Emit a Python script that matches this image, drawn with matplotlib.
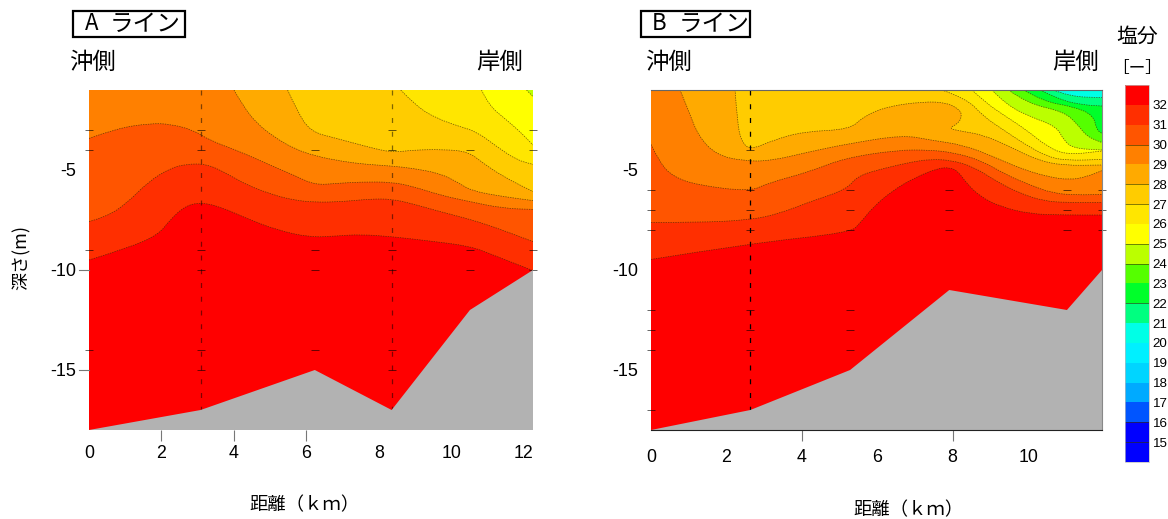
import matplotlib
matplotlib.use("Agg")
import matplotlib.pyplot as plt
from matplotlib.colors import ListedColormap, BoundaryNorm
from matplotlib.colorbar import ColorbarBase
from matplotlib.patches import PathPatch, Rectangle
from matplotlib.path import Path

W, H = 1168, 519
JP = ["Noto Sans CJK JP", "DejaVu Sans"]
plt.rcParams["font.family"] = ["Liberation Sans", "DejaVu Sans"]
plt.rcParams["axes.unicode_minus"] = False

# salinity bands, lowest (14-15) to highest (32-33)
band_edges = list(range(14, 34))
band_colors = ["#0000ff", "#0000ff", "#0055ff", "#00aaff", "#00d5ff", "#00f0ff",
               "#00ffe6", "#00ff80", "#00ff2a", "#55ff00", "#bbff00", "#ffff00",
               "#ffe600", "#ffcc00", "#ffaa00", "#ff8000", "#ff5500", "#ff2f00",
               "#ff0000"]
bar_labels = list(range(15, 33))

# A line isolines: (distance km, depth m)
a_32 = [(0, -9.5), (1.04, -8.92), (1.91, -8.25), (2.23, -7.5), (2.65, -6.8), (3.08, -6.62),
        (3.61, -6.83), (4.35, -7.42), (5.18, -8.0), (6.1, -8.37), (6.83, -8.3), (7.48, -8.22),
        (8.35, -8.33), (9.31, -8.53), (10.51, -8.8), (11.15, -9.25), (12.25, -10.03)]
a_31 = [(0, -7.58), (0.49, -7.33), (1.04, -6.67), (1.64, -5.58), (2.23, -4.92), (2.69, -4.7),
        (3.25, -4.7), (3.8, -5.17), (4.35, -5.75), (5.09, -6.25), (5.64, -6.5), (6.23, -6.62),
        (7.02, -6.58), (7.75, -6.45), (8.35, -6.45), (8.95, -6.7), (9.68, -7.08), (10.42, -7.42),
        (11.15, -7.83), (12.25, -8.58)]
a_30 = [(0, -3.42), (0.76, -2.92), (1.68, -2.67), (2.23, -2.7), (2.88, -3), (3.34, -3.53),
        (4.17, -4.08), (5.09, -4.83), (5.64, -5.25), (6.23, -5.75), (6.83, -5.67), (7.48, -5.6),
        (8.35, -5.6), (8.95, -5.83), (9.68, -6.25), (10.42, -6.55), (11.43, -6.92), (12.25, -6.97)]
a_29 = [(4.0, -1.0), (4.26, -1.83), (4.63, -2.67), (5.09, -3.33), (5.64, -3.92), (6.23, -4.3),
        (7.02, -4.58), (7.66, -4.72), (8.35, -4.8), (8.95, -4.92), (9.68, -5.17), (10.14, -5.58),
        (10.56, -6.05), (11.43, -6.33), (12.25, -6.53)]
a_28 = [(5.48, -1.0), (5.73, -2), (6.1, -3.08), (6.83, -3.42), (7.66, -3.83), (8.35, -4.13),
        (8.95, -4), (9.77, -3.97), (10.46, -4.08), (10.88, -4.67), (11.43, -5.33), (12.25, -6.08)]
a_27 = [(8.6, -1.0), (9.04, -1.83), (9.59, -2.42), (10.23, -2.83), (10.69, -3.08),
        (11.25, -3.83), (11.8, -4.5), (12.25, -4.72)]
a_26 = [(10.83, -1.0), (11.02, -1.75), (11.52, -2.5), (11.89, -3.08), (12.25, -3.75)]
a_25 = [(12.07, -1.0), (12.25, -1.33)]
a_isolines = {32: a_32, 31: a_31, 30: a_30, 29: a_29, 28: a_28, 27: a_27, 26: a_26, 25: a_25}
a_seabed = [(0, -18), (3.08, -17), (6.23, -15), (8.35, -17), (10.51, -12), (12.25, -10)]

# B line isolines
b_32 = [(0, -9.47), (2.635, -8.67), (5.28, -8.13), (5.54, -7.67), (5.9, -6.83), (6.43, -6),
        (6.96, -5.42), (7.58, -4.92), (7.93, -4.87), (8.15, -5.08), (8.37, -5.67), (8.73, -6.33),
        (9.26, -6.83), (10.05, -7.2), (10.94, -7.25), (11.96, -7.25)]
b_31 = [(0, -7.62), (1.21, -7.63), (2.635, -7.5), (3.42, -7.17), (4.22, -6.58), (5.19, -5.97),
        (5.47, -5.3), (6.16, -4.92), (6.96, -4.58), (7.4, -4.47), (7.93, -4.5), (8.55, -4.83),
        (9.17, -5.58), (9.79, -6.17), (10.41, -6.55), (11.03, -6.63), (11.96, -6.62)]
b_30 = [(0, -3.72), (0.24, -4.67), (0.59, -5.33), (1.21, -5.75), (2.635, -6.08), (3.07, -5.67),
        (4.22, -5.08), (5.1, -4.42), (6.52, -4), (7.4, -4), (8.02, -4.13), (8.73, -4.5),
        (9.43, -5.25), (10.05, -5.75), (10.67, -6.17), (11.29, -6.25), (11.96, -6.22)]
b_29 = [(0.77, -1.0), (0.99, -2), (1.26, -3.33), (1.74, -4.25), (2.45, -4.55), (3.16, -4.55),
        (4.22, -4.08), (5.28, -3.67), (6.69, -3.25), (7.4, -3.5), (8.29, -3.75), (9.08, -4.33),
        (9.79, -4.92), (10.5, -5.33), (11.11, -5.5), (11.56, -5.33), (11.96, -5.03)]
b_28 = [(2.23, -1.0), (2.29, -2.67), (2.4, -3.58), (2.635, -4), (3.25, -3.5), (4.04, -3.08),
        (5.28, -2.97), (5.63, -2.33), (6.25, -1.83), (7.22, -1.58), (7.84, -1.63), (8.2, -2),
        (8.24, -2.33), (8.15, -2.67), (7.89, -2.92), (8.2, -3.05), (8.82, -3.25), (9.52, -3.83),
        (10.23, -4.5), (10.94, -4.78), (11.96, -4.75)]
b_27 = [(7.71, -1.0), (8.37, -1.42), (8.82, -2.33), (9.35, -3), (9.88, -3.67), (10.5, -4.33),
        (11.03, -4.53), (11.96, -4.47)]
b_26 = [(8.51, -1.0), (8.9, -1.67), (9.35, -2.25), (9.96, -3), (10.5, -3.83), (11.03, -4.25),
        (11.96, -4.05)]
b_25 = [(9.04, -1.0), (9.43, -1.75), (10.05, -2.33), (10.76, -2.83), (10.94, -3.5),
        (11.2, -3.92), (11.96, -4.0)]
b_24 = [(9.48, -1.0), (9.97, -1.67), (10.94, -2.08), (11.29, -2.67), (11.56, -3.33), (11.96, -3.63)]
b_23 = [(9.88, -1.0), (10.41, -1.58), (11.2, -1.83), (11.73, -2.25), (11.82, -3), (11.96, -3.17)]
b_22 = [(10.32, -1.0), (10.85, -1.5), (11.47, -1.75), (11.96, -1.8)]
b_21 = [(10.67, -1.0), (11.11, -1.33), (11.96, -1.38)]
b_isolines = {32: b_32, 31: b_31, 30: b_30, 29: b_29, 28: b_28, 27: b_27, 26: b_26, 25: b_25,
              24: b_24, 23: b_23, 22: b_22, 21: b_21}
b_seabed = [(0, -18), (2.635, -17), (5.28, -15), (7.91, -11), (11.03, -12), (11.96, -10)]

# sampling stations and depths (distance -> depths)
a_stations = {0: [-3, -4, -9, -14], 3.08: [-3, -4, -9, -10, -14, -15], 6.23: [-4, -9, -10, -14],
              8.35: [-3, -4, -9, -10, -14, -15], 10.51: [-4, -9, -10], 12.25: [-3, -4, -9, -10]}
b_stations = {0: [-6, -7, -8, -12, -13, -14, -17], 2.635: [-4, -6, -7, -8, -12, -13, -14],
              5.28: [-6, -7, -8, -12, -13, -14], 7.91: [-6, -7, -8], 11.03: [-6, -7, -8],
              11.96: [-6, -7, -8]}
a_dashed = [3.08, 8.35]
b_dashed = [2.635]

x_ticks_a = [0, 2, 4, 6, 8, 10, 12]
x_ticks_b = [0, 2, 4, 6, 8, 10]
y_ticks = [-5, -10, -15]
XMAX_A, XMAX_B = 12.25, 11.96
TOP, BOTTOM = -1, -18


def px_axes(x0, x1, y0, y1):
    return [x0 / W, 1 - y1 / H, (x1 - x0) / W, (y1 - y0) / H]


def color_above(level):
    return band_colors[band_edges.index(level - 1)]


def smooth_path(pts, tail=()):
    # quadratic curve through midpoints, the read points act as controls
    verts = [pts[0]]
    codes = [Path.MOVETO]
    for i in range(1, len(pts) - 1):
        mid = ((pts[i][0] + pts[i + 1][0]) / 2, (pts[i][1] + pts[i + 1][1]) / 2)
        verts += [pts[i], mid]
        codes += [Path.CURVE3, Path.CURVE3]
    verts.append(pts[-1])
    codes.append(Path.LINETO)
    for p in tail:
        verts.append(p)
        codes.append(Path.LINETO)
    return Path(verts, codes)


def draw_section(ax, isolines, seabed, stations, dashed, xmax, xticks, shown_ticks, dash_alpha, label_pad):
    ax.set_xlim(0, xmax)
    ax.set_ylim(BOTTOM, TOP)
    ax.set_facecolor(band_colors[-1])

    for level in sorted(isolines, reverse=True):
        pts = isolines[level]
        tail = [(xmax, TOP), (pts[0][0], TOP), pts[0]]
        ax.add_patch(PathPatch(smooth_path(pts, tail), fc=color_above(level), ec="none", lw=0, zorder=2))
    for level, pts in isolines.items():
        ax.add_patch(PathPatch(smooth_path(pts), fc="none", ec="#3a2a00", lw=0.5,
                               ls=(0, (2, 1.5)), alpha=0.75, zorder=3))

    for x in dashed:
        ax.plot([x, x], [TOP, -17], color="black", lw=0.9, ls=(0, (4, 7)), alpha=dash_alpha, zorder=4)
    for x, depths in stations.items():
        ax.plot([x] * len(depths), depths, ls="none", marker="_", ms=6, mew=0.7,
                color="black", alpha=0.6, zorder=4, clip_on=False)

    sea = seabed + [(xmax, BOTTOM)]
    ax.fill(*zip(*sea), color="#b2b2b2", lw=0, zorder=5)

    ax.set_xticks(xticks)
    ax.set_yticks(y_ticks)
    ax.tick_params(axis="x", length=8, color="#777777", labelsize=12.8, pad=label_pad)
    ax.tick_params(axis="y", length=0, labelsize=13, pad=9)
    for tick, val in zip(ax.xaxis.get_major_ticks(), xticks):
        tick.tick1line.set_visible(val in shown_ticks)


fig = plt.figure(figsize=(W / 100, H / 100), dpi=100, facecolor="white")

ax_a = fig.add_axes(px_axes(89, 533, 90, 430))
draw_section(ax_a, a_isolines, a_seabed, a_stations, a_dashed, XMAX_A, x_ticks_a, [2, 4, 6], 0.5, 3)
for s in ax_a.spines.values():
    s.set_visible(False)
for val in [-10, -15]:
    ax_a.plot([-0.28, 0], [val, val], color="#777777", lw=0.8, clip_on=False, zorder=6)

ax_b = fig.add_axes(px_axes(651, 1102, 90, 430))
draw_section(ax_b, b_isolines, b_seabed, b_stations, b_dashed, XMAX_B, x_ticks_b, [4, 8], 1.0, 5.7)
ax_b.spines["left"].set_visible(False)
ax_b.spines["top"].set_color("#666666")
ax_b.spines["right"].set_color("#888888")
ax_b.spines["bottom"].set_color("#222222")
for s in ax_b.spines.values():
    s.set_zorder(7)

# colour bar
cax = fig.add_axes(px_axes(1124.5, 1148.5, 85, 462))
cmap = ListedColormap(band_colors)
norm = BoundaryNorm(band_edges, cmap.N)
cb = ColorbarBase(cax, cmap=cmap, norm=norm, boundaries=band_edges, spacing="uniform", drawedges=False)
cb.set_ticks(bar_labels)
cb.set_ticklabels([str(v) for v in bar_labels])
cb.ax.minorticks_off()
cb.ax.tick_params(length=0, labelsize=9.6, pad=3)
cb.outline.set_edgecolor("#bbbbbb")
cb.outline.set_linewidth(0.5)
for val in [15, 16, 22, 24, 25, 27, 28, 30]:
    cax.axhline(val, color="#333300", lw=0.6, alpha=0.7)


def fig_text(x, y, s, **kw):
    kw.setdefault("family", JP)
    kw.setdefault("ha", "center")
    kw.setdefault("va", "center")
    fig.text(x / W, 1 - y / H, s, **kw)


# line titles with box
for x0, x1, letter, tx, kx in [(73, 185, "A", 92, 145), (641, 750, "B", 659, 714)]:
    fig.add_artist(Rectangle((x0 / W, 1 - 37 / H), (x1 - x0) / W, 26 / H, transform=fig.transFigure,
                             fill=False, ec="black", lw=1.6))
    fig_text(tx, 24, letter, fontsize=16)
    fig_text(kx, 24, "ライン", fontsize=17)

for x, s in [(92, "沖側"), (500, "岸側"), (668, "沖側"), (1076, "岸側")]:
    fig_text(x, 62, s, fontsize=16.8)

fig_text(305, 505, "距離（ｋｍ）", fontsize=13.2)
fig_text(908, 510, "距離（ｋｍ）", fontsize=13.2)
fig_text(22, 257, "深さ(m)", fontsize=13, rotation=90)
fig_text(1137, 37, "塩分", fontsize=15)
fig_text(1137, 69, "［ー］", fontsize=12)

fig.savefig("out.png", dpi=100)
